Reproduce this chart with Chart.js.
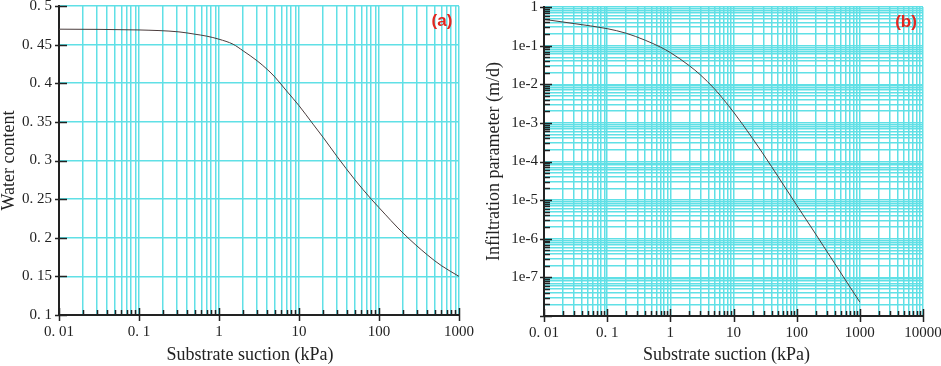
<!DOCTYPE html>
<html>
<head>
<meta charset="utf-8">
<script src="https://cdn.jsdelivr.net/npm/chart.js@4.4.1/dist/chart.umd.min.js"></script>
<style>
  html, body { margin: 0; padding: 0; background: #fff; }
  #wrap { position: relative; width: 941px; height: 366px; overflow: hidden; }
  #wrap canvas { position: absolute; top: 0; }
</style>
</head>
<body>
<div id="wrap">
  <canvas id="chartA" width="490" height="366" style="left:0"></canvas>
  <canvas id="chartB" width="471" height="366" style="left:470px"></canvas>
</div>
<script>
// panel (a): water content vs suction
const suctionA = [0.01, 0.1, 0.316, 0.5, 0.7, 1, 1.5, 2, 3, 4, 5, 7, 10, 15, 20, 30, 50, 80, 100, 200, 400, 600, 1000];
const waterContent = [0.470, 0.469, 0.4665, 0.4635, 0.461, 0.457, 0.4505, 0.442, 0.429, 0.418, 0.408, 0.390, 0.371, 0.347, 0.330, 0.305, 0.275, 0.250, 0.239, 0.206, 0.178, 0.164, 0.150];

// panel (b): infiltration parameter vs suction
const suctionB = [0.01, 0.03, 0.1, 0.2, 0.4, 0.7, 1, 2, 3, 5, 7, 10, 20, 40, 70, 100, 200, 400, 700, 1000];
const infiltration = [0.479, 0.372, 0.275, 0.209, 0.138, 0.0912, 0.0661, 0.0302, 0.0174, 7.6e-3, 3.98e-3, 1.91e-3, 3.98e-4, 7.4e-5, 1.82e-5, 7.4e-6, 1.32e-6, 2.29e-7, 5.6e-8, 2.29e-8];

// tick labels
const xDecadesA = [0.01, 0.1, 1, 10, 100, 1000];
const xLabelsA = ['0. 01', '0. 1', '1', '10', '100', '1000'];
const yTicksA = [0.1, 0.15, 0.2, 0.25, 0.3, 0.35, 0.4, 0.45, 0.5];
const yLabelsA = ['0. 1', '0. 15', '0. 2', '0. 25', '0. 3', '0. 35', '0. 4', '0. 45', '0. 5'];
const xDecadesB = [0.01, 0.1, 1, 10, 100, 1000, 10000];
const xLabelsB = ['0. 01', '0. 1', '1', '10', '100', '1000', '10000'];
const yDecadesB = [1e-8, 1e-7, 1e-6, 1e-5, 1e-4, 1e-3, 1e-2, 1e-1, 1];
const yLabelsB = ['', '1e-7', '1e-6', '1e-5', '1e-4', '1e-3', '1e-2', '1e-1', '1'];

const GRID = 'rgb(96, 224, 230)';
const INK = '#222';
const SERIF = '"Liberation Serif", "Times New Roman", serif';
Chart.defaults.font.family = SERIF;
Chart.defaults.color = INK;

function logTicks(decades) {
  const out = [];
  decades.forEach((d, i) => {
    out.push({ value: d, major: true });
    if (i < decades.length - 1) {
      for (let k = 2; k <= 9; k++) out.push({ value: k * d, major: false });
    }
  });
  return out;
}

function labelOf(value, values, labels) {
  const i = values.findIndex(v => Math.abs(Math.log10(v) - Math.log10(value)) < 1e-9);
  return i < 0 ? '' : labels[i];
}

function fixBox(size) {
  return scale => {
    if (scale.isHorizontal()) scale.height = size; else scale.width = size;
    scale.paddingLeft = 0; scale.paddingRight = 0;
    scale.paddingTop = 0; scale.paddingBottom = 0;
  };
}

// black tick marks, x-axis title and the panel tag
const axisMarks = {
  id: 'axisMarks',
  afterDraw(chart, args, opts) {
    const ctx = chart.ctx;
    const { left, right, top, bottom } = chart.chartArea;
    const xs = chart.scales.x, ys = chart.scales.y;
    ctx.save();
    ctx.strokeStyle = INK;
    ctx.lineWidth = 1.5;
    ctx.beginPath();
    xs.ticks.forEach(t => {
      const px = Math.round(xs.getPixelForValue(t.value)) + 0.5;
      ctx.moveTo(px, bottom - (t.major ? 7 : 5));
      ctx.lineTo(px, bottom + (t.major ? 6 : 0));
    });
    ys.ticks.forEach(t => {
      const py = Math.round(ys.getPixelForValue(t.value)) + 0.5;
      if (t.major) { ctx.moveTo(left - 4, py); ctx.lineTo(left + 8, py); }
      else if (opts.yMinor) { ctx.moveTo(left - 1, py); ctx.lineTo(left + 6, py); }
    });
    ctx.stroke();

    ctx.fillStyle = INK;
    ctx.font = '18px ' + SERIF;
    ctx.textAlign = 'center';
    ctx.textBaseline = 'middle';
    ctx.fillText(opts.xTitle, (left + right) / 2 + opts.titleShift, chart.height - 11);

    ctx.fillStyle = '#e3261f';
    ctx.font = 'bold 17px "Liberation Sans", Arial, sans-serif';
    ctx.fillText(opts.tag, right - 17, top + 15);
    ctx.restore();
  }
};

function lineDataset(xs, ys) {
  return {
    data: xs.map((x, i) => ({ x: x, y: ys[i] })),
    borderColor: '#4a3c3c',
    borderWidth: 1,
    pointRadius: 0,
    cubicInterpolationMode: 'monotone',
    fill: false
  };
}

new Chart(document.getElementById('chartA'), {
  type: 'line',
  data: { datasets: [lineDataset(suctionA, waterContent)] },
  plugins: [axisMarks],
  options: {
    responsive: false,
    animation: false,
    layout: { padding: { left: 0, right: 31, top: 6, bottom: 0 } },
    plugins: { legend: { display: false }, tooltip: { enabled: false },
      axisMarks: { tag: '(a)', yMinor: false, xTitle: 'Substrate suction (kPa)', titleShift: -9 } },
    scales: {
      x: {
        type: 'logarithmic',
        min: 0.01, max: 1000,
        afterBuildTicks: s => { s.ticks = logTicks(xDecadesA); },
        afterFit: fixBox(51),
        ticks: { autoSkip: false, maxRotation: 0, padding: 8, font: { size: 15 },
          callback: v => labelOf(v, xDecadesA, xLabelsA) },
        grid: { color: GRID, lineWidth: 1.5, drawTicks: false },
        border: { display: true, color: INK, width: 2 }
      },
      y: {
        type: 'linear',
        min: 0.1, max: 0.5,
        afterBuildTicks: s => { s.ticks = yTicksA.map(v => ({ value: v, major: true })); },
        afterFit: fixBox(59),
        ticks: { autoSkip: false, padding: 7, font: { size: 15 },
          callback: v => { const i = yTicksA.findIndex(t => Math.abs(t - v) < 1e-9); return i < 0 ? '' : yLabelsA[i]; } },
        grid: { color: GRID, lineWidth: 1.5, drawTicks: false },
        border: { display: true, color: INK, width: 2 },
        title: { display: true, text: 'Water content', font: { size: 18, lineHeight: 1 }, padding: { top: 0, bottom: 0 } }
      }
    }
  }
});

new Chart(document.getElementById('chartB'), {
  type: 'line',
  data: { datasets: [lineDataset(suctionB, infiltration)] },
  plugins: [axisMarks],
  options: {
    responsive: false,
    animation: false,
    layout: { padding: { left: 0, right: 18, top: 7, bottom: 0 } },
    plugins: { legend: { display: false }, tooltip: { enabled: false },
      axisMarks: { tag: '(b)', yMinor: true, xTitle: 'Substrate suction (kPa)', titleShift: -7 } },
    scales: {
      x: {
        type: 'logarithmic',
        min: 0.01, max: 10000,
        afterBuildTicks: s => { s.ticks = logTicks(xDecadesB); },
        afterFit: fixBox(50),
        ticks: { autoSkip: false, maxRotation: 0, padding: 8, font: { size: 15 },
          callback: v => labelOf(v, xDecadesB, xLabelsB) },
        grid: { color: GRID, lineWidth: 1.5, drawTicks: false },
        border: { display: true, color: INK, width: 2 }
      },
      y: {
        type: 'logarithmic',
        min: 1e-8, max: 1,
        afterBuildTicks: s => { s.ticks = logTicks(yDecadesB); },
        afterFit: fixBox(74),
        ticks: { autoSkip: false, padding: 6, font: { size: 15 },
          callback: v => labelOf(v, yDecadesB, yLabelsB) },
        grid: { color: GRID, lineWidth: 1.5, drawTicks: false },
        border: { display: true, color: INK, width: 2 },
        title: { display: true, text: 'Infiltration parameter (m/d)', font: { size: 18, lineHeight: 1 }, padding: { top: 15, bottom: 0 } }
      }
    }
  }
});
</script>
</body>
</html>
